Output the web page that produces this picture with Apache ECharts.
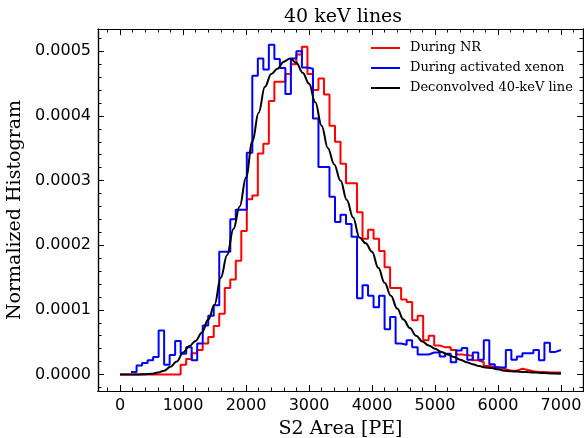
<!DOCTYPE html>
<html><head><meta charset="utf-8">
<script src="https://cdn.jsdelivr.net/npm/echarts@6/dist/echarts.min.js"></script>
<style>html,body{margin:0;padding:0;background:#fff}#c{width:584px;height:438px}</style>
</head><body><div id="c"></div>
<script>
// histogram bin width (PE); 80 bins from 0 to 7000
const binWidth = 87.5;

// During NR (red), one value per bin
const redNR = [
  0,0,0,0,0,0,0,0,0,0,
  0,0.000015,0.000024,0.000033,0.000038,0.000048,0.000058,0.000075,0.000094,0.000134,
  0.000147,0.000176,0.000222,0.000271,0.000277,0.000342,0.000357,0.000423,0.000453,0.000453,
  0.000465,0.000480,0.000495,0.000507,0.000465,0.000440,0.000458,0.000433,0.000385,0.000360,
  0.000326,0.000296,0.000296,0.000251,0.000210,0.000224,0.000210,0.000191,0.000166,0.000134,
  0.000134,0.000116,0.000112,0.000084,0.000091,0.000053,0.000060,0.000045,0.000042,0.000042,
  0.000038,0.000031,0.000030,0.000029,0.000022,0.000019,0.000013,0.000012,0.000011,0.000008,
  0.000006,0.000006,0.000009,0.000007,0.000005,0.000004,0.000004,0.000003,0.000003,0.000003
];

// During activated xenon (blue), one value per bin (null = not drawn)
const blueXe = [
  null,null,0.000004,0.000014,0.000018,0.000022,0.000027,0.000068,0.000015,0.000030,
  0.000052,0.000032,0.000042,0.000022,0.000048,0.000076,0.000091,0.000107,0.000190,0.000190,
  0.000240,0.000255,0.000255,0.000343,0.000462,0.000489,0.000472,0.000510,0.000488,0.000474,
  0.000434,0.000489,0.000500,0.000475,0.000473,0.000396,0.000321,0.000321,0.000275,0.000236,
  0.000247,0.000233,0.000213,0.000118,0.000138,0.000122,0.000104,0.000122,0.000070,0.000089,
  0.000048,0.000046,0.000053,0.000042,0.000031,0.000031,0.000034,0.000034,0.000028,0.000032,
  0.000019,0.000037,0.000041,0.000023,0.000034,0.000023,0.000053,0.000016,0.000011,0.000011,
  0.000038,0.000023,0.000028,0.000033,0.000033,0.000038,0.000022,0.000049,0.000035,0.000038
];

// Deconvolved 40-keV line (black), sampled every 100 PE from 0 to 7000
const curveStep = 100;
const deconv = [
  0,0,0,0,0.0000005,0.000001,0.000003,0.000006,0.000012,0.00002,
  0.000034,0.000044,0.000052,0.000065,0.000085,0.000108,0.00015,0.000185,0.000225,0.00026,
  0.000305,0.00036,0.000405,0.000445,0.000465,0.000473,0.000484,0.000489,0.000482,0.000467,
  0.00045,0.000421,0.000385,0.00035,0.000325,0.0003,0.00027,0.000243,0.000212,0.000203,
  0.00019,0.000165,0.000142,0.000122,0.000102,0.000085,0.000072,0.00006,0.000051,0.000045,
  0.00004,0.000035,0.000031,0.000027,0.000023,0.000019,0.000016,0.000013,0.000011,0.00001,
  0.000008,0.000006,0.000005,0.0000045,0.000004,0.0000036,0.000003,0.0000025,0.000002,0.0000015,
  0.000001
];

const xMajor = [0,1000,2000,3000,4000,5000,6000,7000];
const xMinor = [-200,200,400,600,800,1200,1400,1600,1800,2200,2400,2600,2800,3200,3400,3600,3800,4200,4400,4600,4800,5200,5400,5600,5800,6200,6400,6600,6800,7200];
const yMajor = [0,0.0001,0.0002,0.0003,0.0004,0.0005];
const yMinor = [-0.00002,0.00002,0.00004,0.00006,0.00008,0.00012,0.00014,0.00016,0.00018,0.00022,0.00024,0.00026,0.00028,0.00032,0.00034,0.00036,0.00038,0.00042,0.00044,0.00046,0.00048,0.00052];

const X_MIN = -350, X_MAX = 7350;
const Y_MIN = -0.0000255, Y_MAX = 0.0005345;

function stepData(vals) {
  const out = [];
  let last = null;
  for (let i = 0; i < vals.length; i++) {
    if (vals[i] === null) continue;
    out.push([i * binWidth, vals[i]]);
    last = vals[i];
  }
  out.push([vals.length * binWidth, last]);
  return out;
}
const curveData = deconv.map((v, i) => [i * curveStep, v]);

const SERIF = 'DejaVu Serif';
const SANS = 'DejaVu Sans';
const gridRect = {left: 98, top: 29, right: 1, bottom: 47, containLabel: false, outerBoundsMode: 'none'};

function xAx(grid, pos, ticks, len, labels, extra) {
  return Object.assign({
    type: 'value', gridIndex: grid, position: pos, min: X_MIN, max: X_MAX,
    splitLine: {show: false},
    axisLine: {show: true, onZero: false, lineStyle: {color: '#000', width: 1.2}},
    axisTick: {show: true, inside: true, length: len, customValues: ticks, lineStyle: {color: '#000', width: 1}},
    axisLabel: labels ? {show: true, customValues: ticks, color: '#000', fontFamily: SANS, fontSize: 16, margin: 7,
      formatter: v => String(Math.round(v))} : {show: false}
  }, extra || {});
}
function yAx(grid, pos, ticks, len, labels, extra) {
  return Object.assign({
    type: 'value', gridIndex: grid, position: pos, min: Y_MIN, max: Y_MAX,
    splitLine: {show: false},
    axisLine: {show: true, onZero: false, lineStyle: {color: '#000', width: 1.2}},
    axisTick: {show: true, inside: true, length: len, customValues: ticks, lineStyle: {color: '#000', width: 1}},
    axisLabel: labels ? {show: true, customValues: ticks, color: '#000', fontFamily: SANS, fontSize: 16, margin: 7,
      formatter: v => v.toFixed(4)} : {show: false}
  }, extra || {});
}

const chart = echarts.init(document.getElementById('c'), null, {renderer: 'canvas'});
chart.setOption({
  animation: false,
  backgroundColor: '#fff',
  title: {text: '40 keV lines', left: 279, top: 3,
    textStyle: {fontFamily: SERIF, fontSize: 19, fontWeight: 'normal', color: '#000'}},
  legend: {
    orient: 'vertical', left: 366, top: 36, itemWidth: 29, itemHeight: 2, itemGap: 6, icon: 'rect',
    textStyle: {fontFamily: SERIF, fontSize: 13, color: '#000', lineHeight: 14, padding: [0, 0, 0, 5]},
    data: ['During NR', 'During activated xenon', 'Deconvolved 40-keV line']
  },
  grid: [gridRect, Object.assign({}, gridRect)],
  xAxis: [
    xAx(0, 'bottom', xMajor, 6, true, {name: 'S2 Area [PE]', nameLocation: 'middle', nameGap: 29,
      nameTextStyle: {fontFamily: SERIF, fontSize: 19, color: '#000'}}),
    xAx(0, 'top', xMajor, 6, false),
    xAx(1, 'bottom', xMinor, 3.5, false),
    xAx(1, 'top', xMinor, 3.5, false)
  ],
  yAxis: [
    yAx(0, 'left', yMajor, 6, true, {name: 'Normalized Histogram', nameLocation: 'middle', nameGap: 72,
      nameTextStyle: {fontFamily: SERIF, fontSize: 19, color: '#000'}}),
    yAx(0, 'right', yMajor, 6, false),
    yAx(1, 'left', yMinor, 3.5, false),
    yAx(1, 'right', yMinor, 3.5, false)
  ],
  series: [
    {name: 'During NR', type: 'line', step: 'end', xAxisIndex: 0, yAxisIndex: 0, symbol: 'none',
      data: stepData(redNR), lineStyle: {color: '#ff0000', width: 2}, itemStyle: {color: '#ff0000'}},
    {name: 'During activated xenon', type: 'line', step: 'end', xAxisIndex: 0, yAxisIndex: 0, symbol: 'none',
      data: stepData(blueXe), lineStyle: {color: '#0000ff', width: 2}, itemStyle: {color: '#0000ff'}},
    {name: 'Deconvolved 40-keV line', type: 'line', xAxisIndex: 0, yAxisIndex: 0, symbol: 'none',
      smooth: 0.4, smoothMonotone: 'x',
      data: curveData, lineStyle: {color: '#000000', width: 2}, itemStyle: {color: '#000000'}}
  ]
});
</script>
</body></html>
